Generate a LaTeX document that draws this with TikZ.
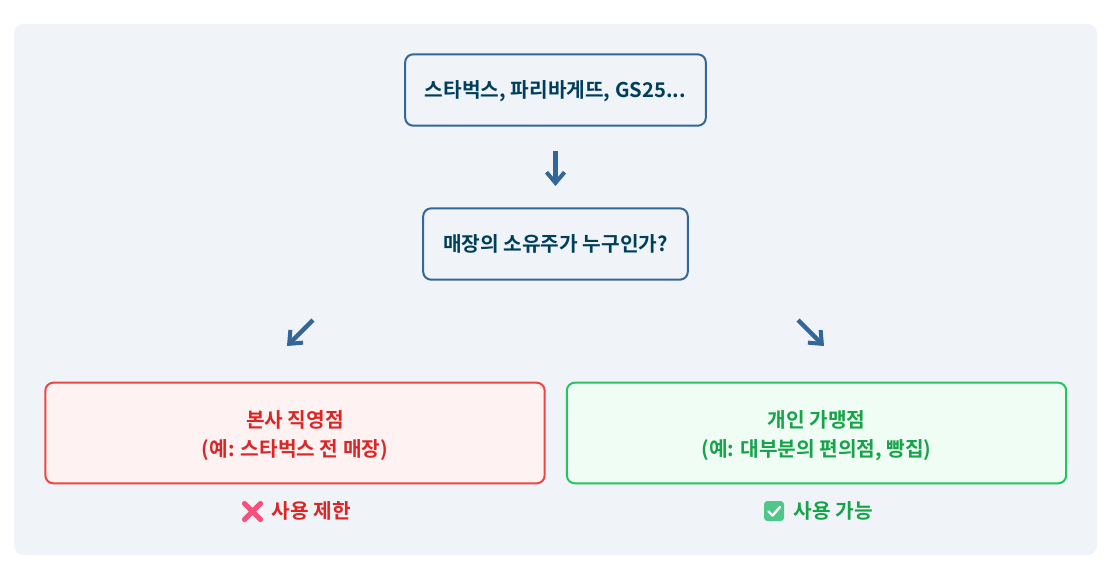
\documentclass[tikz,border=0pt]{standalone}
\usepackage{fontspec}
\usepackage{xcolor}
\setmainfont{Noto Sans CJK KR}[BoldFont={Noto Sans CJK KR Bold}]
\usetikzlibrary{arrows.meta}
\definecolor{panelbg}{HTML}{F0F4F8}
\definecolor{flowblue}{HTML}{336699}
\definecolor{inkdark}{HTML}{003F5C}
\definecolor{redline}{HTML}{EF4444}
\definecolor{redfill}{HTML}{FEF2F2}
\definecolor{redink}{HTML}{DC2626}
\definecolor{greenline}{HTML}{22C55E}
\definecolor{greenfill}{HTML}{F0FDF4}
\definecolor{greenink}{HTML}{16A34A}
\definecolor{crosspink}{HTML}{F4527B}
\definecolor{checkgreen}{HTML}{4FC78B}
\tikzset{
    askbox/.style={draw=flowblue, fill=panelbg, line width=1.5pt, rounded corners=6pt, align=center, text=inkdark, text height=15pt, text depth=3.4pt, font=\fontsize{15.2}{19}\selectfont\bfseries},
    outcome/.style={line width=1.5pt, rounded corners=6pt, align=center, minimum width=374.5pt, minimum height=75.5pt, text height=39pt, text depth=3.4pt, font=\fontsize{15.2}{22.2}\selectfont\bfseries},
    flow/.style={draw=flowblue, line width=3.4pt, -{Straight Barb[length=8pt, width=13.5pt, line width=3pt]}},
    verdict/.style={font=\fontsize{15.2}{19}\selectfont\bfseries}
}
\begin{document}
\begin{tikzpicture}[x=0.75pt, y=-0.75pt]
        \useasboundingbox (0,0) rectangle (1110,572);
        \fill[panelbg, rounded corners=7pt] (14,24) rectangle (1097,555);

        % Nodes
        \node[askbox, minimum width=225.5pt, minimum height=53.5pt] (brands) at (555.5,90) {스타벅스, 파리바게뜨, GS25...};
        \node[askbox, minimum width=198.5pt, minimum height=53.5pt] (owner) at (555.5,244) {매장의 소유주가 누구인가?};
        \node[outcome, draw=redline, fill=redfill, text=redink] (direct) at (295,433) {본사 직영점\\(예: 스타벅스 전 매장)};
        \node[outcome, draw=greenline, fill=greenfill, text=greenink] (franchise) at (816.5,433) {개인 가맹점\\(예: 대부분의 편의점, 빵집)};
        \node[verdict, text=redink] (banned) at (311.5,510.5) {사용 제한};
        \node[verdict, text=greenink] (allowed) at (833.5,510.5) {사용 가능};

        % Free ends of the slanted arrows
        \coordinate (leftfrom) at (313,320);
        \coordinate (leftto) at (287,346);
        \coordinate (rightfrom) at (798,320);
        \coordinate (rightto) at (824,346);

        % Arrows
        \draw[flow, shorten <=18pt, shorten >=16pt] (brands) -- (owner);
        \draw[flow] (leftfrom) -- (leftto);
        \draw[flow] (rightfrom) -- (rightto);

        % Marks
        \draw[crosspink, line width=3.9pt, line cap=round] (244.5,503.5) -- (260.5,519.5) (260.5,503.5) -- (244.5,519.5);
        \fill[checkgreen, rounded corners=2.5pt] (764,501) rectangle (784,521);
        \draw[white, line width=1.8pt, line cap=round, line join=round] (768.5,511.5) -- (772.5,515.5) -- (780,507);
    \end{tikzpicture}
\end{document}
